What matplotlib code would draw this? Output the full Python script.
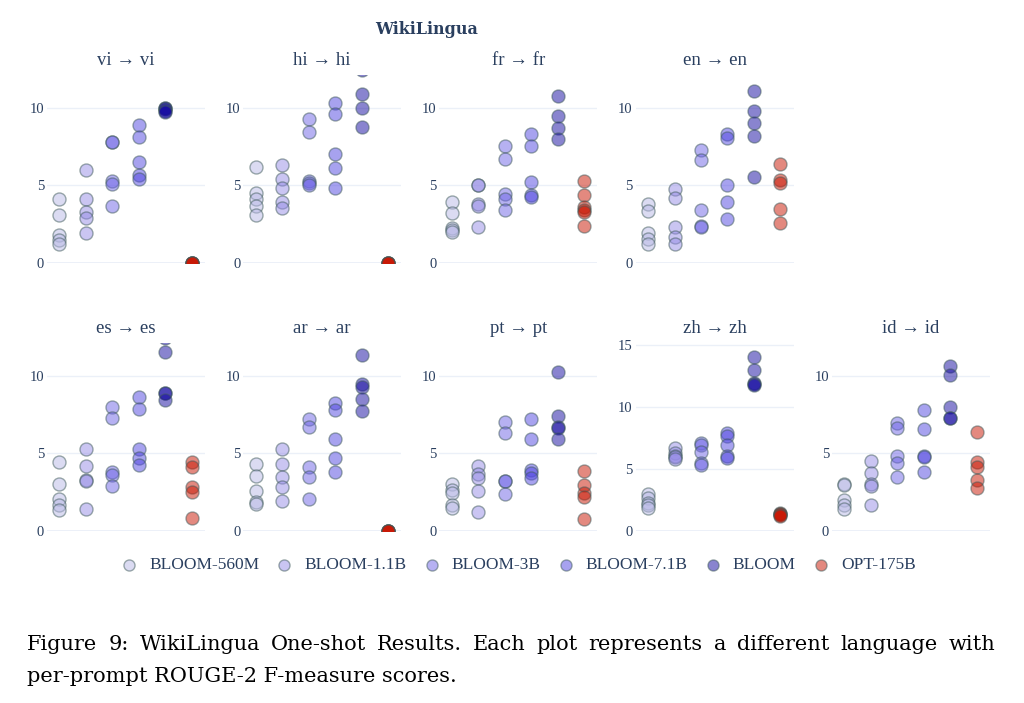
import matplotlib

matplotlib.use("Agg")
import matplotlib.pyplot as plt  # noqa: E402

# ROUGE-2 F-measure per prompt, one list per model (same order as MODELS)
MODELS = ["BLOOM-560M", "BLOOM-1.1B", "BLOOM-3B", "BLOOM-7.1B", "BLOOM", "OPT-175B"]

vi_scores = [
    [4.1, 3.1, 1.8, 1.45, 1.2],
    [6.0, 4.1, 3.3, 2.9, 1.9],
    [7.8, 7.8, 5.3, 5.1, 3.7],
    [8.9, 8.1, 6.5, 5.65, 5.4],
    [10.0, 9.95, 9.9, 9.8, 9.7],
    [0.0, 0.0, 0.0, 0.0, 0.0],
]
hi_scores = [
    [6.2, 4.5, 4.1, 3.65, 3.1],
    [6.3, 5.4, 4.85, 3.95, 3.55],
    [9.25, 8.4, 5.3, 5.15, 5.0],
    [10.3, 9.6, 7.0, 6.1, 4.85],
    [12.45, 10.9, 9.95, 8.75],
    [0.0, 0.0, 0.0, 0.0, 0.0],
]
fr_scores = [
    [3.9, 3.2, 2.25, 2.1, 2.0],
    [5.05, 5.0, 3.8, 3.65, 2.3],
    [7.5, 6.7, 4.45, 4.1, 3.4],
    [8.3, 7.55, 5.2, 4.4, 4.25],
    [10.75, 9.45, 8.7, 8.0],
    [5.25, 4.35, 3.6, 3.4, 3.3, 2.4],
]
en_scores = [
    [3.8, 3.35, 1.95, 1.55, 1.2],
    [4.75, 4.2, 2.3, 1.7, 1.2],
    [7.25, 6.65, 3.4, 2.35, 2.3],
    [8.3, 8.05, 5.05, 3.95, 2.8],
    [11.05, 9.8, 9.0, 8.2, 5.55],
    [6.4, 5.35, 5.15, 3.5, 2.55],
]
es_scores = [
    [4.45, 3.05, 2.05, 1.65, 1.35],
    [5.25, 4.2, 3.3, 3.25, 1.4],
    [7.95, 7.3, 3.8, 3.6, 2.9],
    [8.6, 7.85, 5.3, 4.7, 4.25],
    [12.45, 11.5, 8.9, 8.85, 8.4],
    [4.45, 4.15, 2.8, 2.5, 0.85],
]
ar_scores = [
    [4.3, 3.55, 2.55, 1.85, 1.75],
    [5.3, 4.3, 3.5, 2.85, 1.95],
    [7.2, 6.7, 4.1, 3.45, 2.05],
    [8.25, 7.8, 5.9, 4.7, 3.8],
    [11.35, 9.45, 9.25, 8.5, 7.7],
    [0.0, 0.0, 0.0, 0.0, 0.0],
]
pt_scores = [
    [3.0, 2.65, 2.45, 1.65, 1.5],
    [4.2, 3.7, 3.4, 2.6, 1.2],
    [7.0, 6.3, 3.25, 3.2, 2.4],
    [7.2, 5.9, 3.95, 3.75, 3.4],
    [10.25, 7.4, 6.7, 6.6, 5.9],
    [3.85, 2.95, 2.45, 2.2, 0.8],
]
zh_scores = [
    [3.0, 2.65, 2.3, 2.1, 1.9],
    [6.7, 6.3, 6.1, 6.0, 5.85],
    [7.1, 6.95, 6.4, 5.5, 5.35],
    [7.95, 7.7, 6.95, 6.05, 5.9],
    [14.1, 13.0, 12.0, 11.9, 11.8],
    [1.45, 1.4, 1.35, 1.3, 1.25],
]
id_scores = [
    [3.0, 2.95, 2.0, 1.65, 1.4],
    [4.5, 3.75, 3.0, 2.9, 1.7],
    [6.95, 6.6, 4.85, 4.35, 3.5],
    [7.8, 6.55, 4.85, 4.75, 3.8],
    [10.6, 10.05, 8.0, 7.3, 7.25],
    [6.35, 4.45, 4.15, 3.3, 2.75],
]

PANELS = [
    ("vi", vi_scores), ("hi", hi_scores), ("fr", fr_scores), ("en", en_scores),
    ("es", es_scores), ("ar", ar_scores), ("pt", pt_scores), ("zh", zh_scores),
    ("id", id_scores),
]

CAPTION_1 = "Figure 9: WikiLingua One-shot Results.  Each plot represents a different language with"
CAPTION_2 = "per-prompt ROUGE-2 F-measure scores."

# marker face colours, drawn at half opacity
MODEL_COLORS = ["#b9b9e6", "#968ce6", "#6e64e6", "#5046e1", "#140aa0", "#c81400"]
EDGE_COLOR = "#3f5a5a"
GRID_COLOR = "#ebf0f8"
TEXT_COLOR = "#2a3f5f"
SERIF = ["Liberation Serif", "DejaVu Serif"]
CAPTION_FONT = ["DejaVu Serif"]

plt.rcParams["font.family"] = SERIF

W, H = 1024, 703
fig = plt.figure(figsize=(W / 100, H / 100), dpi=100)


def px_axes(left, top, width, height):
    return fig.add_axes([left / W, 1 - (top + height) / H, width / W, height / H])


def justified_line(text, x0, x1, y, **kw):
    """Spread the words of one caption line so it fills x0..x1 (pixels)."""
    renderer = fig.canvas.get_renderer()
    words = text.split()
    items = [fig.text(0, 1 - y / H, w, va="center", ha="left", **kw) for w in words]
    widths = [t.get_window_extent(renderer).width for t in items]
    gap = (x1 - x0 - sum(widths)) / (len(words) - 1)
    x = x0
    for t, w in zip(items, widths):
        t.set_x(x / W)
        x += w + gap


handles = []
for idx, (lang, scores) in enumerate(PANELS):
    row, col = (0, idx) if idx < 4 else (1, idx - 4)
    left = 47 + col * 196.2
    top = 75 if row == 0 else 343
    ax = px_axes(left, top, 158, 188)

    for m, vals in enumerate(scores):
        sc = ax.scatter(
            [m] * len(vals), vals, s=88, color=MODEL_COLORS[m], alpha=0.5,
            edgecolors=EDGE_COLOR, linewidths=1.0, zorder=3, label=MODELS[m],
        )
        if idx == 0:
            handles.append(sc)

    top_val = 15.2 if lang == "zh" else 12.1
    ax.set_ylim(0, top_val)
    ax.set_xlim(-0.47, 5.5)
    ax.set_yticks([0, 5, 10, 15] if lang == "zh" else [0, 5, 10])
    ax.set_xticks([])
    ax.grid(axis="y", color=GRID_COLOR, linewidth=1.0, zorder=0)
    ax.axhline(0, color=GRID_COLOR, linewidth=2.0, zorder=1)
    for s in ax.spines.values():
        s.set_visible(False)
    ax.tick_params(axis="y", length=0, pad=2, labelsize=10.5, labelcolor=TEXT_COLOR)
    ax.set_title(f"{lang} \u2192 {lang}", fontsize=13.5, color=TEXT_COLOR, pad=7)

fig.text(427 / W, 1 - 30 / H, "WikiLingua", ha="center", va="center",
         fontsize=11.5, fontweight="bold", color=TEXT_COLOR, family=["DejaVu Serif"])

fig.legend(
    handles=handles, labels=MODELS, loc="center", ncol=6,
    bbox_to_anchor=(518 / W, 1 - 565 / H), frameon=False, fontsize=12.5,
    markerscale=0.85, handlelength=1.0, handletextpad=0.65, columnspacing=0.95,
    labelcolor=TEXT_COLOR,
)

justified_line(CAPTION_1, 27, 995, 645, fontsize=15, color="black", family=CAPTION_FONT)
fig.text(27 / W, 1 - 677 / H, CAPTION_2, ha="left", va="center",
         fontsize=15, color="black", family=CAPTION_FONT)

fig.savefig("out.png", dpi=100, facecolor="white")
